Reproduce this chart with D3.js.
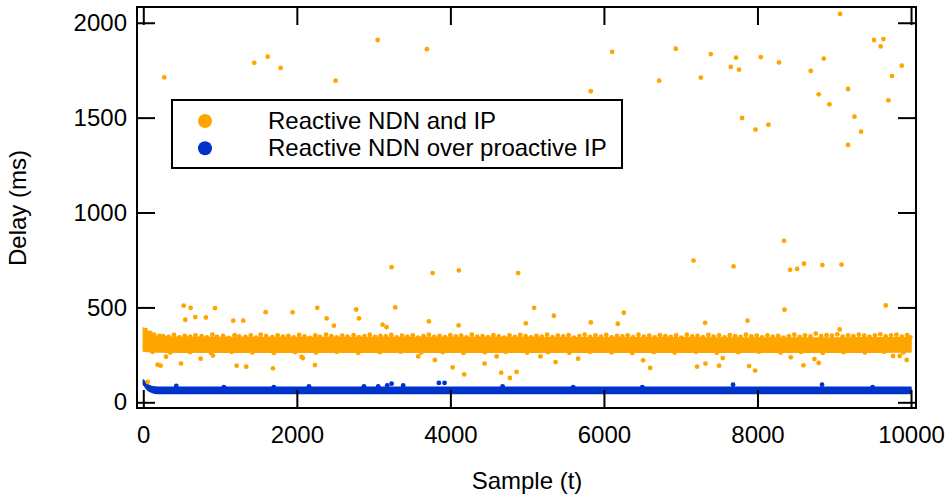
<!DOCTYPE html>
<html>
<head>
<meta charset="utf-8">
<script src="https://cdn.jsdelivr.net/npm/d3@7"></script>
<style>
  html, body { margin: 0; padding: 0; background: #fff; }
  svg text { font-family: "Liberation Sans", Arial, Helvetica, sans-serif; fill: #000; }
</style>
</head>
<body>
<svg id="chart" width="952" height="500"></svg>
<script>
// ---------------- data ----------------
const xTicks = [0, 2000, 4000, 6000, 8000, 10000];
const yTicks = [0, 500, 1000, 1500, 2000];
const seriesNames = ["Reactive NDN and IP", "Reactive NDN over proactive IP"];
const xTitle = "Sample (t)";
const yTitle = "Delay (ms)";

// dense core of the orange series (visual envelope, ms)
const orangeBandX    = [0, 50, 100, 150, 200, 300, 1000, 2000, 3000, 4000, 5000, 6000, 7000, 8000, 9000, 9500, 10000];
const orangeBandHigh = [392, 376, 362, 352, 346, 343, 342, 342, 342, 341, 341, 340, 340, 339, 339, 340, 340];
const orangeBandLow  = [270, 268, 266, 265, 265, 264, 264, 264, 264, 264, 264, 264, 264, 264, 264, 264, 265];

// points on the ragged upper edge of the orange band
const orangeEdgeX = [30,90,140,210,260,330,400,470,540,610,680,760,830,900,960,1040,1110,1190,1250,1330,1400,1470,1530,1600,1680,1750,1820,1890,1960,2030,2100,2170,2240,2300,2380,2450,2520,2590,2660,2740,2810,2880,2950,3020,3090,3160,3230,3300,3370,3440,3510,3580,3650,3720,3790,3860,3930,4000,4070,4140,4210,4280,4350,4420,4490,4560,4630,4700,4770,4840,4910,4980,5050,5120,5190,5260,5330,5400,5470,5540,5610,5680,5750,5820,5890,5960,6030,6100,6170,6240,6310,6380,6450,6520,6590,6660,6730,6800,6870,6940,7010,7080,7150,7220,7290,7360,7430,7500,7570,7640,7710,7780,7850,7920,7990,8060,8130,8200,8270,8340,8410,8480,8550,8620,8690,8760,8830,8900,8970,9040,9110,9180,9250,9320,9390,9460,9530,9600,9670,9740,9810,9880,9950,9990];
const orangeEdgeY = [380,366,356,350,348,345,355,342,350,346,353,348,342,356,345,350,340,354,347,344,352,341,356,349,343,353,346,350,342,355,347,340,352,345,356,348,342,351,346,354,343,349,356,344,350,347,355,342,351,346,353,341,348,356,345,350,343,354,347,351,342,356,346,349,343,354,347,341,352,345,355,348,342,350,346,356,343,351,347,354,341,349,356,344,352,346,355,342,350,347,353,343,356,346,351,342,354,348,345,352,341,356,347,350,343,355,346,352,342,354,348,344,356,347,351,342,353,346,350,341,349,356,344,352,347,362,348,354,351,358,346,353,348,356,351,345,353,358,347,352,356,346,354,342];

// points on the lower edge of the orange band
const orangeLowEdgeX = [120,350,610,880,1150,1420,1700,1980,2250,2520,2800,3080,3350,3620,3900,4170,4450,4720,5000,5270,5550,5820,6100,6370,6650,6920,7200,7470,7750,8020,8300,8570,8850,9120,9400,9650,9900];
const orangeLowEdgeY = [266,262,265,261,266,263,260,265,262,266,261,264,267,262,265,260,264,266,262,265,261,266,263,260,265,262,266,261,264,267,262,265,260,264,263,266,262];

// isolated orange samples (ms)
const orangeOutX = [273,1445,1620,1789,2505,3052,3694,5829,6107,6719,6936,7262,7392,7652,7721,7760,7800,7974,8043,8143,8281,8694,8798,8863,8937,9076,9180,9180,9263,9349,9518,9605,9640,9705,9753,9879,
  8346,3234,3768,4111,4883,7167,7688,8425,8516,8607,8846,9094,9671,8352,
  526,617,934,547,677,816,1172,1302,1594,1945,2266,2388,2483,2773,2809,3117,3169,3281,3720,4107,4983,5091,5348,5829,6259,6181,7318,7870,9072,
  57,187,226,296,491,747,908,1216,1341,1689,2062,2079,2236,3581,3798,4029,4180,4445,4602,4662,4775,4862,5174,5370,5664,6511,6602,7214,7323,7500,7548,7891,7969,8434,8599,8742,8798,9766,9853,9944];
const orangeOutY = [1712,1789,1821,1762,1695,1909,1861,1639,1847,1695,1863,1711,1835,1767,1816,1753,1498,1437,1819,1463,1791,1746,1623,1811,1570,2046,1651,1356,1505,1426,1909,1875,1914,1591,1719,1774,
  851,712,681,695,681,747,716,698,703,730,723,726,510,488,
  509,498,496,435,449,447,430,430,475,474,498,442,404,489,442,409,396,500,426,405,416,498,456,421,472,414,419,430,384,
  107,198,193,240,204,230,246,193,188,179,239,233,196,242,223,184,147,204,242,156,128,160,242,212,230,221,181,188,204,193,233,191,167,237,195,228,207,244,244,223];

// dense core of the blue series (visual envelope, ms)
const blueBandX    = [0, 20, 50, 90, 150, 250, 1000, 5000, 10000];
const blueBandHigh = [118, 108, 96, 86, 80, 79, 79, 79, 79];
const blueBandLow  = [94, 84, 68, 56, 48, 46, 46, 46, 46];

// blue samples slightly above the blue band, and isolated blue samples
const blueOutX = [430,1050,1700,2158,2874,3060,3177,3234,3385,3850,3924,4680,5600,6500,7682,8841,9500];
const blueOutY = [86,80,80,84,84,84,89,98,89,102,102,84,80,80,93,93,80];

// ---------------- drawing ----------------
const orange = "#FFA500";
const blue = "#0033CC";
const svg = d3.select("#chart");

const x = d3.scaleLinear().domain([-82, 10065]).range([137, 916]);
const y = d3.scaleLinear().domain([-30, 2083]).range([408, 7]);

const plot = svg.append("g");

// blue series
const blueBand = blueBandX.map((d, i) => ({x: d, lo: blueBandLow[i], hi: blueBandHigh[i]}));
plot.append("path").datum(blueBand)
  .attr("d", d3.area().x(d => x(d.x)).y0(d => y(d.lo)).y1(d => y(d.hi)).curve(d3.curveMonotoneX))
  .attr("fill", blue).attr("stroke", blue).attr("stroke-width", 1.5).attr("stroke-linejoin", "round");
plot.append("g").selectAll("circle").data(blueOutX.map((d, i) => [d, blueOutY[i]]))
  .join("circle").attr("cx", d => x(d[0])).attr("cy", d => y(d[1])).attr("r", 2.4).attr("fill", blue);

// orange series
const orangeBand = orangeBandX.map((d, i) => ({x: d, lo: orangeBandLow[i], hi: orangeBandHigh[i]}));
plot.append("path").datum(orangeBand)
  .attr("d", d3.area().x(d => x(d.x)).y0(d => y(d.lo)).y1(d => y(d.hi)).curve(d3.curveMonotoneX))
  .attr("fill", orange).attr("stroke", orange).attr("stroke-width", 1.5).attr("stroke-linejoin", "round");
const orangePts = orangeEdgeX.map((d, i) => [d, orangeEdgeY[i]])
  .concat(orangeLowEdgeX.map((d, i) => [d, orangeLowEdgeY[i]]))
  .concat(orangeOutX.map((d, i) => [d, orangeOutY[i]]));
plot.append("g").selectAll("circle").data(orangePts)
  .join("circle").attr("cx", d => x(d[0])).attr("cy", d => y(d[1])).attr("r", 2.4).attr("fill", orange);

// axes (ticks inward on all four sides)
const fontSize = 24;
const gx = svg.append("g").attr("transform", "translate(0,408)")
  .call(d3.axisBottom(x).tickValues(xTicks).tickSize(-18).tickPadding(18).tickFormat(d3.format("d")));
const gy = svg.append("g").attr("transform", "translate(137,0)")
  .call(d3.axisLeft(y).tickValues(yTicks).tickSize(-18).tickPadding(10).tickFormat(d3.format("d")));
const gt = svg.append("g").attr("transform", "translate(0,7)")
  .call(d3.axisTop(x).tickValues(xTicks).tickSize(-18).tickFormat(""));
const gr = svg.append("g").attr("transform", "translate(916,0)")
  .call(d3.axisRight(y).tickValues(yTicks).tickSize(-18).tickFormat(""));
[gx, gy, gt, gr].forEach(g => {
  g.select(".domain").remove();
  g.selectAll(".tick line").attr("stroke", "#000").attr("stroke-width", 2);
  g.selectAll(".tick text").attr("font-size", fontSize).style("font-family", '"Liberation Sans", Arial, sans-serif').attr("fill", "#000");
});

// frame
svg.append("rect").attr("x", 137).attr("y", 7).attr("width", 916 - 137).attr("height", 408 - 7)
  .attr("fill", "none").attr("stroke", "#000").attr("stroke-width", 2);

// axis titles
svg.append("text").attr("x", 527).attr("y", 489).attr("text-anchor", "middle")
  .attr("font-size", fontSize).text(xTitle);
svg.append("text").attr("transform", "translate(26,208) rotate(-90)").attr("text-anchor", "middle")
  .attr("font-size", fontSize).text(yTitle);

// legend
const lg = svg.append("g");
lg.append("rect").attr("x", 172).attr("y", 100).attr("width", 450).attr("height", 68)
  .attr("fill", "#fff").attr("stroke", "#000").attr("stroke-width", 2);
[orange, blue].forEach((c, i) => {
  lg.append("circle").attr("cx", 205).attr("cy", 121 + i * 27.3).attr("r", 7).attr("fill", c);
  lg.append("text").attr("x", 268).attr("y", 129 + i * 27.3).attr("font-size", fontSize).text(seriesNames[i]);
});
</script>
</body>
</html>
